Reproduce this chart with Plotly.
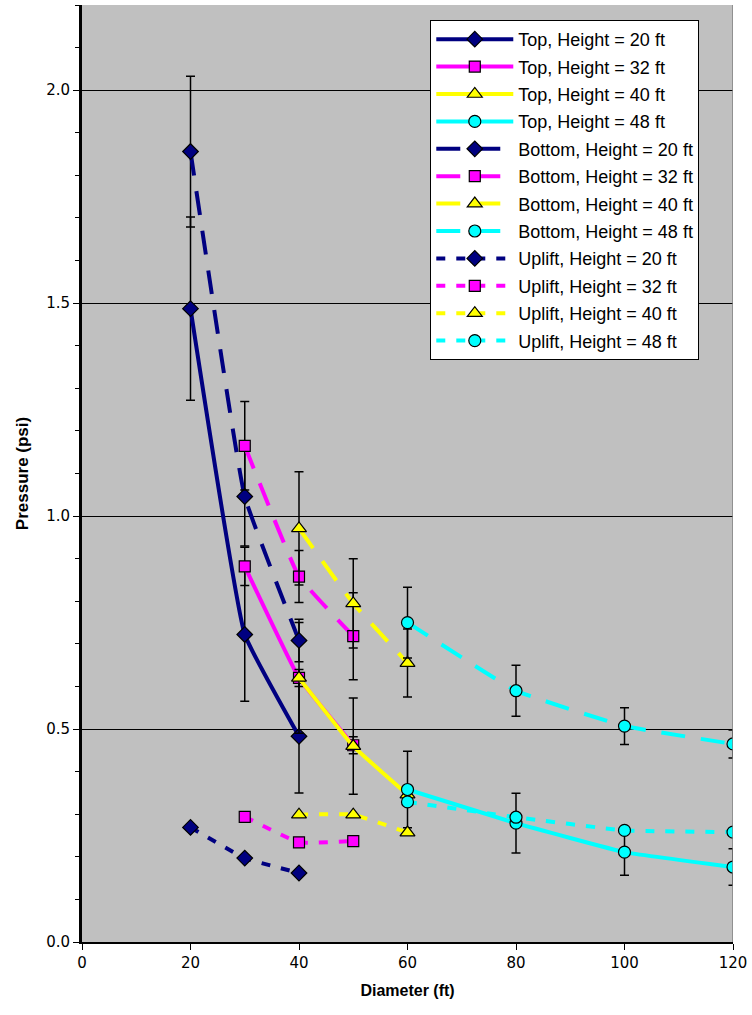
import plotly.graph_objects as go

# Diameters tested for each tank height (ft)
diam_h20 = [20, 30, 40]
diam_h32 = [30, 40, 50]
diam_h40 = [40, 50, 60]
diam_h48 = [60, 80, 100, 120]

# Top pressure (psi) and error
top_h20 = [1.487, 0.722, 0.483]
top_h20_err = [0.215, 0.157, 0.133]
top_h32 = [0.882, 0.620, 0.462]
top_h32_err = [0.045, 0.130, 0.020]
top_h40 = [0.620, 0.460, 0.346]
top_h40_err = [0.020, 0.113, 0.020]
top_h48 = [0.358, 0.279, 0.211, 0.176]
top_h48_err = [0.090, 0.070, 0.054, 0.043]

# Bottom pressure (psi) and error
bot_h20 = [1.856, 1.046, 0.708]
bot_h20_err = [0.177, 0.116, 0.050]
bot_h32 = [1.165, 0.858, 0.718]
bot_h32_err = [0.104, 0.061, 0.102]
bot_h40 = [0.971, 0.795, 0.655]
bot_h40_err = [0.133, 0.105, 0.080]
bot_h48 = [0.750, 0.590, 0.507, 0.465]
bot_h48_err = [0.083, 0.060, 0.043, 0.033]

# Uplift pressure (psi)
upl_h20 = [0.269, 0.197, 0.162]
upl_h32 = [0.294, 0.234, 0.237]
upl_h40 = [0.299, 0.299, 0.257]
upl_h48 = [0.329, 0.293, 0.262, 0.258]

heights = ["20", "32", "40", "48"]
colors = ["#000080", "#FF00FF", "#FFFF00", "#00FFFF"]
symbols = ["diamond", "square", "triangle-up", "circle"]
msizes = [12, 11, 13, 12]
diams = [diam_h20, diam_h32, diam_h40, diam_h48]

groups = [
    ("Top", [top_h20, top_h32, top_h40, top_h48],
     [top_h20_err, top_h32_err, top_h40_err, top_h48_err], "solid"),
    ("Bottom", [bot_h20, bot_h32, bot_h40, bot_h48],
     [bot_h20_err, bot_h32_err, bot_h40_err, bot_h48_err], "24px,16px"),
    ("Uplift", [upl_h20, upl_h32, upl_h40, upl_h48],
     [None, None, None, None], "9px,11px"),
]

fig = go.Figure()
for gname, vals, errs, dash in groups:
    for i, h in enumerate(heights):
        err = errs[i]
        fig.add_trace(go.Scatter(
            x=diams[i], y=vals[i],
            mode="lines+markers",
            name=f"{gname}, Height = {h} ft",
            legendgroup=f"{gname}{h}",
            line=dict(color=colors[i], width=4, dash=dash,
                      shape="spline", smoothing=0.3),
            marker=dict(symbol=symbols[i], size=msizes[i], color=colors[i],
                        line=dict(color="black", width=1.2)),
            error_y=(dict(type="data", array=err, visible=True,
                          color="black", thickness=1.5, width=4.5)
                     if err is not None else dict(visible=False)),
        ))

# thin grey border on the right edge of the plot area
fig.add_shape(type="line", xref="x", yref="paper", x0=120, x1=120, y0=0, y1=1,
              line=dict(color="#808080", width=1.5), layer="above")

fig.update_layout(
    width=752, height=1015,
    margin=dict(l=82, r=16, t=5, b=73),
    paper_bgcolor="white",
    plot_bgcolor="#C0C0C0",
    font=dict(family="Liberation Sans, Arial, sans-serif", color="black"),
    showlegend=True,
    legend=dict(
        x=0.535, y=0.984, xanchor="left", yanchor="top",
        bgcolor="white", bordercolor="black", borderwidth=1,
        font=dict(size=18, color="black"),
        tracegroupgap=1, itemwidth=77,
    ),
    xaxis=dict(
        range=[0, 120], dtick=20, tick0=0,
        showgrid=False, zeroline=False,
        showline=True, linecolor="black", linewidth=2,
        ticks="outside", ticklen=6, tickcolor="black",
        tickfont=dict(size=15, family="DejaVu Sans"),
        title=dict(text="<b>Diameter (ft)</b>", font=dict(size=16), standoff=14),
    ),
    yaxis=dict(
        range=[0, 2.2], dtick=0.5, tick0=0, tickformat=".1f",
        showgrid=True, gridcolor="black", gridwidth=1,
        zeroline=False,
        showline=True, linecolor="black", linewidth=3,
        ticks="outside", ticklen=6, tickcolor="black",
        minor=dict(dtick=0.1, ticks="outside", ticklen=4, tickcolor="black", showgrid=False),
        tickfont=dict(size=15, family="DejaVu Sans"),
        title=dict(text="<b>Pressure (psi)</b>", font=dict(size=17), standoff=14),
    ),
)

fig.write_html("out.html")
